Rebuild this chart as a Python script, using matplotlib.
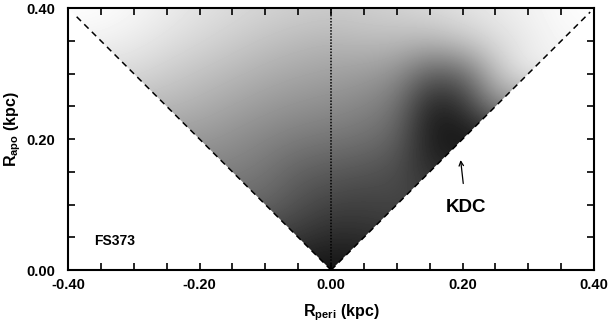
import numpy as np
import matplotlib
matplotlib.use('Agg')
import matplotlib.pyplot as plt
from matplotlib.patches import Polygon

plt.rcParams['font.family'] = ['Liberation Sans', 'DejaVu Sans']
plt.rcParams['font.weight'] = 'bold'
plt.rcParams['mathtext.fontset'] = 'custom'
plt.rcParams['mathtext.rm'] = 'Liberation Sans:bold'
plt.rcParams['mathtext.bf'] = 'Liberation Sans:bold'

r_peri = np.round(np.arange(-0.40, 0.401, 0.05), 2)
r_apo = np.round(np.arange(0.00, 0.401, 0.05), 2)

# grey level per grid point (0 = black, 1 = white), one row per r_apo value
shade_000 = [0.08, 0.08, 0.08, 0.08, 0.08, 0.08, 0.08, 0.08, 0.06, 0.08, 0.08, 0.08, 0.08, 0.08, 0.08, 0.08, 0.08]
shade_005 = [0.24, 0.24, 0.24, 0.24, 0.24, 0.24, 0.24, 0.22, 0.16, 0.18, 0.20, 0.20, 0.20, 0.20, 0.20, 0.20, 0.20]
shade_010 = [0.40, 0.40, 0.40, 0.40, 0.40, 0.40, 0.40, 0.31, 0.26, 0.25, 0.27, 0.27, 0.27, 0.27, 0.27, 0.27, 0.27]
shade_015 = [0.50, 0.50, 0.50, 0.50, 0.50, 0.50, 0.45, 0.38, 0.35, 0.33, 0.30, 0.17, 0.17, 0.17, 0.17, 0.17, 0.17]
shade_020 = [0.60, 0.60, 0.60, 0.60, 0.60, 0.56, 0.52, 0.48, 0.46, 0.44, 0.38, 0.10, 0.07, 0.07, 0.07, 0.07, 0.07]
shade_025 = [0.72, 0.72, 0.72, 0.72, 0.68, 0.64, 0.60, 0.57, 0.55, 0.52, 0.45, 0.12, 0.18, 0.55, 0.55, 0.55, 0.55]
shade_030 = [0.85, 0.85, 0.85, 0.80, 0.76, 0.72, 0.68, 0.65, 0.63, 0.61, 0.56, 0.36, 0.40, 0.75, 0.93, 0.93, 0.93]
shade_035 = [0.95, 0.95, 0.92, 0.88, 0.84, 0.80, 0.76, 0.73, 0.71, 0.73, 0.73, 0.72, 0.78, 0.86, 0.92, 0.97, 0.97]
shade_040 = [1.00, 0.99, 0.97, 0.93, 0.89, 0.86, 0.83, 0.81, 0.80, 0.81, 0.83, 0.86, 0.89, 0.92, 0.95, 0.98, 1.00]

shade = np.array([shade_000, shade_005, shade_010, shade_015, shade_020,
                  shade_025, shade_030, shade_035, shade_040])

x_ticks = [-0.40, -0.20, 0.00, 0.20, 0.40]
y_ticks = [0.00, 0.20, 0.40]

fig = plt.figure(figsize=(6.1, 3.25), dpi=100)
ax = fig.add_axes([0.1115, 0.169, 0.8625, 0.806])

dx = r_peri[1] - r_peri[0]
dy = r_apo[1] - r_apo[0]
im = ax.imshow(shade, origin='lower', cmap='gray', vmin=0, vmax=1,
               interpolation='bicubic', aspect='auto',
               extent=[r_peri[0] - dx / 2, r_peri[-1] + dx / 2,
                       r_apo[0] - dy / 2, r_apo[-1] + dy / 2])
tri = Polygon([[0, 0], [-0.4, 0.4], [0.4, 0.4]], closed=True,
              transform=ax.transData, facecolor='none', edgecolor='none')
ax.add_patch(tri)
im.set_clip_path(tri)

ax.plot([0, -0.39], [0, 0.39], color='black', lw=1.1, ls=(0, (4, 3)))
ax.plot([0, 0.394], [0, 0.394], color='black', lw=1.1, ls=(0, (4, 3)))
ax.plot([0, 0], [0, 0.4], color='black', lw=1.1, ls=(0, (1, 1)))

ax.text(-0.36, 0.044, 'FS373', fontsize=10, fontweight='bold', va='center', ha='left')
ax.annotate('KDC', xy=(0.197, 0.168), xytext=(0.205, 0.096),
            fontsize=13.5, fontweight='bold', ha='center', va='center',
            arrowprops=dict(arrowstyle='->', color='black', lw=0.9,
                            shrinkA=9, shrinkB=0, mutation_scale=8))

ax.set_xlim(-0.4, 0.4)
ax.set_ylim(0, 0.4)
ax.set_xticks(x_ticks)
ax.set_yticks(y_ticks)
ax.set_xticklabels(['%.2f' % v for v in x_ticks])
ax.set_yticklabels(['%.2f' % v for v in y_ticks])
ax.set_xticks(np.arange(-0.4, 0.401, 0.05), minor=True)
ax.set_yticks(np.arange(0, 0.401, 0.05), minor=True)
ax.tick_params(which='both', direction='in', top=True, right=True,
               length=5, width=1.2, labelsize=10.5)
ax.tick_params(axis='x', pad=6)
ax.tick_params(axis='y', pad=9)
for s in ax.spines.values():
    s.set_linewidth(1.5)

ax.set_xlabel(r'R$_{\rm peri}$ (kpc)', fontsize=11.5, fontweight='bold')
ax.set_ylabel(r'R$_{\rm apo}$ (kpc)', fontsize=11.5, fontweight='bold')
ax.xaxis.set_label_coords(0.52, -0.125)
ax.yaxis.set_label_coords(-0.085, 0.54)

fig.savefig('out.png', dpi=100)
